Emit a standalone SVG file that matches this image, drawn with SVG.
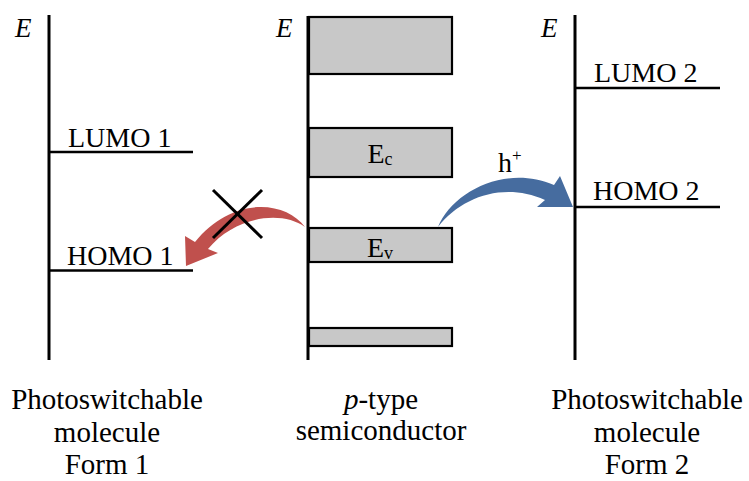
<svg xmlns="http://www.w3.org/2000/svg" width="749" height="481" viewBox="0 0 749 481">
<style>
  text { font-family: "Liberation Serif", "Times New Roman", serif; fill: #000; }
  .lvl { font-size: 28px; }
  .lab { font-size: 29px; text-anchor: middle; }
  .e { font-size: 27px; font-style: italic; }
  .axis { stroke: #000; stroke-width: 3; fill: none; }
  .line { stroke: #000; stroke-width: 2.5; fill: none; }
  .band { fill: #c8c8c8; stroke: #000; stroke-width: 2.2; }
</style>
<rect width="749" height="481" fill="#fff"/>

<g id="form1">
  <line class="axis" x1="49" y1="15" x2="49" y2="360"/>
  <text class="e" x="15" y="37">E</text>
  <line class="line" x1="49" y1="152" x2="193" y2="152"/>
  <text class="lvl" x="68" y="147">LUMO 1</text>
  <line class="line" x1="49" y1="270.5" x2="193" y2="270.5"/>
  <text class="lvl" x="67" y="265">HOMO 1</text>
  <text class="lab" x="107" y="409">Photoswitchable</text>
  <text class="lab" x="107" y="442">molecule</text>
  <text class="lab" x="107" y="474">Form 1</text>
</g>

<g id="semiconductor">
  <line class="axis" x1="308" y1="16" x2="308" y2="360"/>
  <text class="e" x="276" y="37">E</text>
  <rect class="band" x="309" y="17" width="143" height="57"/>
  <rect class="band" x="309" y="128" width="143" height="49"/>
  <rect class="band" x="309" y="228" width="143" height="34"/>
  <rect class="band" x="309" y="328" width="143" height="18"/>
  <text class="lvl" x="380" y="163" text-anchor="middle">E<tspan font-size="18" dy="2">c</tspan></text>
  <text class="lvl" x="380" y="257" text-anchor="middle">E<tspan font-size="18" dy="2">v</tspan></text>
  <text class="lab" x="381" y="409"><tspan font-style="italic">p</tspan>-type</text>
  <text class="lab" x="381" y="440">semiconductor</text>
</g>

<g id="form2">
  <line class="axis" x1="575" y1="15" x2="575" y2="360"/>
  <text class="e" x="541" y="37">E</text>
  <line class="line" x1="575" y1="88" x2="720" y2="88"/>
  <text class="lvl" x="594" y="82">LUMO 2</text>
  <line class="line" x1="575" y1="207" x2="720" y2="207"/>
  <text class="lvl" x="593" y="200">HOMO 2</text>
  <text class="lab" x="647" y="409">Photoswitchable</text>
  <text class="lab" x="647" y="442">molecule</text>
  <text class="lab" x="647" y="474">Form 2</text>
</g>

<g id="connectors">
  <path id="hole-transfer" d="M438,227 C452,192 505,164 554,185 L560,176 L573,207 L537,207 L545,200 C505,182 462,196 438,227 Z" fill="#466c9f"/>
  <text class="lvl" x="498" y="172">h<tspan font-size="17" dy="-11">+</tspan></text>
  <path id="blocked-transfer" d="M305,227 C285,200 232,196 195,242 L185,236 L186,266 L218,253 L208,249 C235,216 282,210 305,227 Z" fill="#c0504d"/>
  <g id="block-mark" stroke="#000" stroke-width="3">
    <line x1="213" y1="190" x2="262" y2="238"/>
    <line x1="262" y1="190" x2="213" y2="238"/>
  </g>
</g>
</svg>
